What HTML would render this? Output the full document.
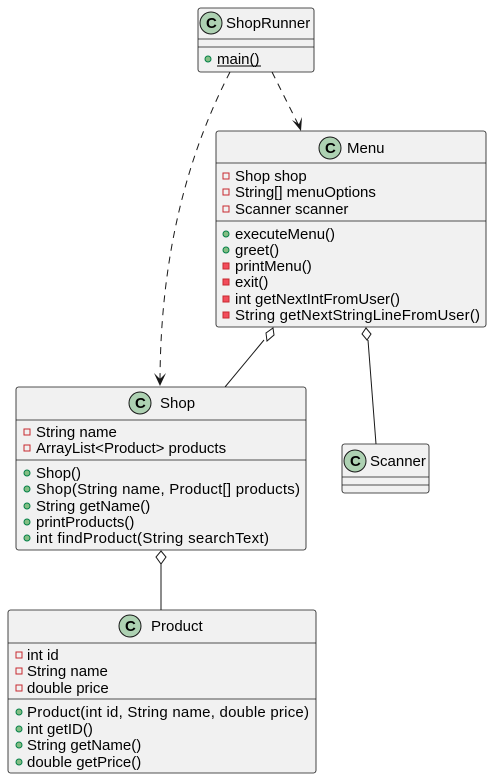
<!DOCTYPE html>
<html><head><meta charset="utf-8"><style>
html,body{margin:0;padding:0;background:#fff;}
svg{display:block;}
text{font-family:"Liberation Sans",sans-serif;font-size:15px;fill:#000;}
.b{fill:#f1f1f1;stroke:#181818;stroke-width:0.8;}
.l{stroke:#181818;stroke-width:0.8;}
.pub{fill:#84be84;stroke:#038048;stroke-width:1;}
.pf{fill:none;stroke:#c82930;stroke-width:1;}
.pm{fill:#f24d5c;stroke:#c82930;stroke-width:1;}
.ci{fill:#add1b2;stroke:#181818;stroke-width:1;}
.ct{font-weight:bold;font-size:15px;}
</style></head><body>
<svg width="492" height="779" viewBox="0 0 492 779" xmlns="http://www.w3.org/2000/svg">
<!-- connectors -->
<path d="M230,72 C190,150 160,250 160,384" fill="none" stroke="#181818" stroke-width="1" stroke-dasharray="7,6"/>
<path d="M154,373 L160,386 L166,373 L160,379 Z" fill="#181818"/>
<path d="M272,72 L300,128" fill="none" stroke="#181818" stroke-width="1" stroke-dasharray="7,6"/>
<path d="M292,120 L301,131 L302,117 L299,124 Z" fill="#181818"/>
<path d="M264,340 L225,387" stroke="#181818" stroke-width="1"/>
<path d="M273,328 L274,335 L267,341 L266,333 Z" fill="#fff" stroke="#181818" stroke-width="1"/>
<path d="M368,340 L376,444" stroke="#181818" stroke-width="1"/>
<path d="M366,328 L371,334 L367,340 L362,334 Z" fill="#fff" stroke="#181818" stroke-width="1"/>
<path d="M161,564 L161,610" stroke="#181818" stroke-width="1"/>
<path d="M161,551 L166,557 L161,564 L156,557 Z" fill="#fff" stroke="#181818" stroke-width="1"/>

<!-- ShopRunner -->
<rect class="b" x="198" y="8" width="116" height="64" rx="2.5"/>
<line class="l" x1="198" y1="39" x2="314" y2="39"/>
<line class="l" x1="198" y1="47" x2="314" y2="47"/>
<circle class="ci" cx="211" cy="23" r="11"/><text class="ct" x="206" y="28">C</text>
<text x="226" y="28">ShopRunner</text>
<circle class="pub" cx="208" cy="59" r="3"/>
<text x="217" y="64">main()</text>
<line x1="217" y1="66" x2="261" y2="66" stroke="#000" stroke-width="1"/>

<!-- Menu -->
<rect class="b" x="216" y="131" width="270" height="196" rx="2.5"/>
<line class="l" x1="216" y1="163" x2="486" y2="163"/>
<line class="l" x1="216" y1="221" x2="486" y2="221"/>
<circle class="ci" cx="330" cy="148" r="11"/><text class="ct" x="325" y="153">C</text>
<text x="347" y="153">Menu</text>
<rect class="pf" x="223" y="173" width="6" height="6"/><text x="235" y="181">Shop shop</text>
<rect class="pf" x="223" y="189" width="6" height="6"/><text x="235" y="197">String[] menuOptions</text>
<rect class="pf" x="223" y="206" width="6" height="6"/><text x="235" y="214">Scanner scanner</text>
<circle class="pub" cx="226" cy="234" r="3"/><text x="235" y="239">executeMenu()</text>
<circle class="pub" cx="226" cy="250" r="3"/><text x="235" y="255">greet()</text>
<rect class="pm" x="223" y="263" width="6" height="6"/><text x="235" y="271">printMenu()</text>
<rect class="pm" x="223" y="279" width="6" height="6"/><text x="235" y="287">exit()</text>
<rect class="pm" x="223" y="296" width="6" height="6"/><text x="235" y="304">int getNextIntFromUser()</text>
<rect class="pm" x="223" y="312" width="6" height="6"/><text x="235" y="320" textLength="245">String getNextStringLineFromUser()</text>

<!-- Shop -->
<rect class="b" x="16" y="387" width="290" height="163" rx="2.5"/>
<line class="l" x1="16" y1="420" x2="306" y2="420"/>
<line class="l" x1="16" y1="460" x2="306" y2="460"/>
<circle class="ci" cx="140" cy="403" r="11"/><text class="ct" x="135" y="408">C</text>
<text x="160" y="408">Shop</text>
<rect class="pf" x="24" y="429" width="6" height="6"/><text x="36" y="437">String name</text>
<rect class="pf" x="24" y="445" width="6" height="6"/><text x="36" y="453">ArrayList&lt;Product&gt; products</text>
<circle class="pub" cx="27" cy="473" r="3"/><text x="36" y="478">Shop()</text>
<circle class="pub" cx="27" cy="489" r="3"/><text x="36" y="494" textLength="264">Shop(String name, Product[] products)</text>
<circle class="pub" cx="27" cy="506" r="3"/><text x="36" y="511">String getName()</text>
<circle class="pub" cx="27" cy="522" r="3"/><text x="36" y="527">printProducts()</text>
<circle class="pub" cx="27" cy="538" r="3"/><text x="36" y="543" textLength="233">int findProduct(String searchText)</text>

<!-- Scanner -->
<rect class="b" x="342" y="444" width="87" height="49" rx="2.5"/>
<line class="l" x1="342" y1="477" x2="429" y2="477"/>
<line class="l" x1="342" y1="485" x2="429" y2="485"/>
<circle class="ci" cx="355" cy="461" r="11"/><text class="ct" x="350" y="466">C</text>
<text x="370" y="466">Scanner</text>

<!-- Product -->
<rect class="b" x="8" y="610" width="308" height="163" rx="2.5"/>
<line class="l" x1="8" y1="643" x2="316" y2="643"/>
<line class="l" x1="8" y1="699" x2="316" y2="699"/>
<circle class="ci" cx="130" cy="626" r="11"/><text class="ct" x="125" y="631">C</text>
<text x="151" y="631">Product</text>
<rect class="pf" x="16" y="652" width="6" height="6"/><text x="27" y="660">int id</text>
<rect class="pf" x="16" y="668" width="6" height="6"/><text x="27" y="676">String name</text>
<rect class="pf" x="16" y="685" width="6" height="6"/><text x="27" y="693">double price</text>
<circle class="pub" cx="19" cy="712" r="3"/><text x="27" y="717" textLength="282">Product(int id, String name, double price)</text>
<circle class="pub" cx="19" cy="729" r="3"/><text x="27" y="734">int getID()</text>
<circle class="pub" cx="19" cy="745" r="3"/><text x="27" y="750">String getName()</text>
<circle class="pub" cx="19" cy="762" r="3"/><text x="27" y="767">double getPrice()</text>
</svg>
</body></html>
